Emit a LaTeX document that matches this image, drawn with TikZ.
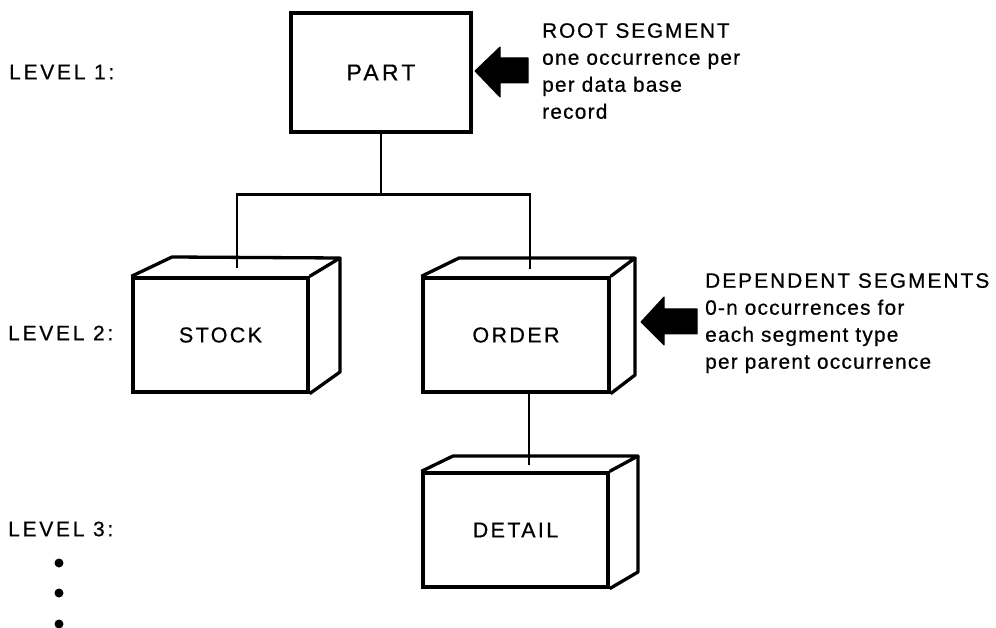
\documentclass[tikz,border=0pt]{standalone}
\usepackage{fontspec}
\setmainfont{Liberation Sans}[LetterSpace=6,FakeBold=0.6]
\begin{document}
\begin{tikzpicture}[x=1pt,y=-1pt,
  box/.style={draw, line width=3.3pt, inner sep=0pt, font=\fontsize{21.5}{25}\selectfont\addfontfeature{LetterSpace=11}},
  face/.style={line width=3.3pt, line join=round},
  link/.style={line width=2.6pt},
  lvl/.style={inner sep=0pt, anchor=west, font=\fontsize{21}{25}\selectfont\addfontfeature{LetterSpace=13}},
  note/.style={inner sep=0pt, anchor=north west, align=left, font=\fontsize{20.8}{27}\selectfont},
  bigarrow/.style={fill=black, draw=black, line width=1pt, line join=round}]
\useasboundingbox (0,0) rectangle (996,628);
% level labels
\node[lvl] (l1) at (9,72) {LEVEL 1:};
\node[lvl] (l2) at (8,333) {LEVEL 2:};
\node[lvl] (l3) at (8,529) {LEVEL 3:};
\fill (59,563) circle (4.5pt) (59,593) circle (4.5pt) (59,624) circle (4.5pt);
% boxes
\node[box, minimum width=180pt, minimum height=119pt] (part) at (381,72.5) {\fontsize{23}{25}\selectfont\addfontfeature{LetterSpace=14}PART};
\node[box, minimum width=175pt, minimum height=114pt] (stock) at (220.5,335) {STOCK};
\node[box, minimum width=186pt, minimum height=114pt] (order) at (516,335) {ORDER};
\node[box, minimum width=185pt, minimum height=114pt] (detail) at (515.5,530) {DETAIL};
% 3D faces
\draw[face] (stock.north west) -- (172,257) -- (340,258) -- (stock.north east);
\draw[face] (340,258) -- (340,372) -- (stock.south east);
\draw[face] (order.north west) -- (459,258) -- (635,258) -- (order.north east);
\draw[face] (635,258) -- (635,375) -- (order.south east);
\draw[face] (detail.north west) -- (453,456) -- (638,456) -- (detail.north east);
\draw[face] (638,456) -- (638,572) -- (detail.south east);
% connectors
\coordinate (stockin) at (237,268);
\coordinate (orderin) at (530,269);
\coordinate (detailin) at (529,465);
\draw[link] (part.south) -- ++(0,61) coordinate (fork);
\draw[link] (stockin) |- (fork) -| (orderin);
\draw[link] (detailin |- order.south) -- (detailin);
% annotations
\node[note] (root) at (542,23) {{\addfontfeature{LetterSpace=9}ROOT SEGMENT}\\one occurrence per\\per data base\\record};
\node[note] (dep) at (705,273) {{\addfontfeature{LetterSpace=10}DEPENDENT SEGMENTS}\\0-n occurrences for\\each segment type\\per parent occurrence};
\draw[bigarrow] (475,71) -- (500,47) -- (500,58) -- (528,58) -- (528,83) -- (500,83) -- (500,97) -- cycle;
\draw[bigarrow] (641,322) -- (664,297) -- (664,309) -- (697,309) -- (697,334) -- (664,334) -- (664,345) -- cycle;
\end{tikzpicture}
\end{document}
